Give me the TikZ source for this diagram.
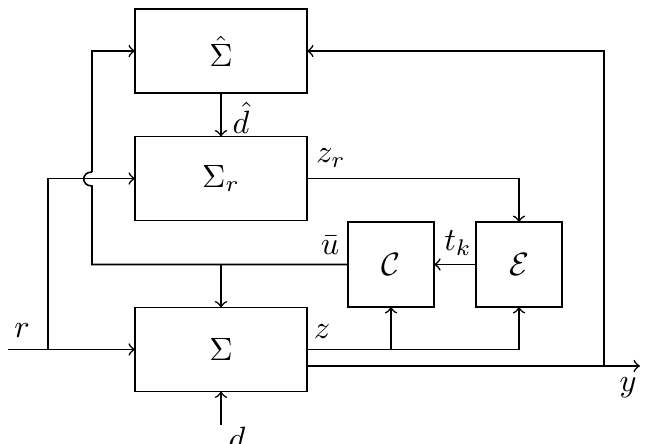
\documentclass[tikz,border=0pt]{standalone}
\usetikzlibrary{arrows}
\begin{document}
\begin{tikzpicture}[x=0.31pt,y=-0.31pt,line width=0.5pt,
  blk/.style={draw,minimum width=53.3pt,minimum height=26pt,inner sep=0pt,outer sep=0pt},
  sblk/.style={draw,minimum width=26.7pt,minimum height=26.3pt,inner sep=0pt,outer sep=0pt},
  lbl/.style={inner sep=0pt}]
\useasboundingbox (0,0) rectangle (660,444);

% blocks
\node[blk] (Shat) at (221,51) {$\hat{\Sigma}$};
\node[blk] (Sr) at (221,178.5) {$\Sigma_r$};
\node[blk] (S) at (221,349.5) {$\Sigma$};
\node[sblk] (C) at (391,264.5) {$\mathcal{C}$};
\node[sblk] (E) at (519,264.5) {$\mathcal{E}$};

% free ends and branch points
\coordinate (rin) at (8,349.5);
\coordinate (rbr) at (48,349.5);
\coordinate (din) at (221,425);
\coordinate (sy) at (307,366);
\coordinate (yout) at (640,366);
\coordinate (fb) at (604,366);
\coordinate (ucorner) at (92,264.5);
\coordinate (hopb) at (92,186);
\coordinate (hopt) at (92,172);
\coordinate (utop) at (92,51);
\coordinate (ubr) at (221,264.5);

% reference input
\draw[->] (rin) -- (S.west);
\draw[->] (rbr) |- (Sr.west);

% disturbance and its estimate
\draw[->] (din) -- (S.south);
\draw[->] (Shat.south) -- (Sr.north);

% outputs to the event generator and controller
\draw[->] (Sr.east) -| (E.north);
\draw[->] (S.east) -| (E.south);
\draw[->] (S.east -| C.south) -- (C.south);
\draw[->] (E.west) -- (C.east);

% measured output and feedback to the estimator
\draw[->] (sy) -- (yout);
\draw[->] (fb) |- (Shat.east);

% control input, hopping over the reference line
\draw (C.west) -- (ucorner) -- (hopb)
  .. controls (81,186) and (81,172) .. (hopt);
\draw[->] (hopt) -- (utop) -- (Shat.west);
\draw[->] (ubr) -- (S.north);

% labels
\node[lbl] at (241,118) {$\hat{d}$};
\node[lbl] at (331,158) {$z_r$};
\node[lbl] at (330,245) {$\bar{u}$};
\node[lbl] at (458,243) {$t_k$};
\node[lbl] at (22,331) {$r$};
\node[lbl] at (322,332) {$z$};
\node[lbl] at (628,388) {$y$};
\node[lbl] at (237,438) {$d$};
\end{tikzpicture}
\end{document}
